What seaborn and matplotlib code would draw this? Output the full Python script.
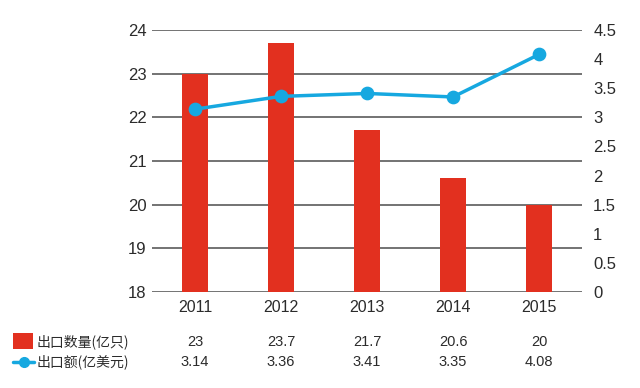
import matplotlib
matplotlib.use("Agg")
import matplotlib.pyplot as plt
import seaborn as sns
import pandas as pd
from matplotlib.patches import Rectangle
from matplotlib.lines import Line2D

years = ["2011", "2012", "2013", "2014", "2015"]
quantity = [23, 23.7, 21.7, 20.6, 20]
value = [3.14, 3.36, 3.41, 3.35, 4.08]
qty_labels = ["23", "23.7", "21.7", "20.6", "20"]
val_labels = ["3.14", "3.36", "3.41", "3.35", "4.08"]
left_ticks = [18, 19, 20, 21, 22, 23, 24]
right_ticks = [0, 0.5, 1, 1.5, 2, 2.5, 3, 3.5, 4, 4.5]
right_tick_labels = ["0", "0.5", "1", "1.5", "2", "2.5", "3", "3.5", "4", "4.5"]
series_names = ["出口数量(亿只)", "出口额(亿美元)"]

sns.set_theme(style="white")
plt.rcParams['font.family'] = ['Liberation Sans', 'Noto Sans CJK SC', 'DejaVu Sans']

RED = "#e2301f"
BLUE = "#16a8e0"
GRID = "#4d4d4d"
TXT = "#2b2b2b"

df = pd.DataFrame({"year": years, "quantity": quantity, "value": value})

fig = plt.figure(figsize=(6.4, 3.88), dpi=100)
ax = fig.add_axes([0.2375, 0.2474, 0.6719, 0.6753])

sns.barplot(data=df, x="year", y="quantity", color=RED, width=0.3,
            saturation=1, ax=ax, zorder=3, linewidth=0)
ax.set_ylim(18, 24)
ax.set_yticks(left_ticks)
ax.set_yticklabels([str(t) for t in left_ticks])
ax.yaxis.grid(True, color=GRID, linewidth=1.1, zorder=0)
ax.set_axisbelow(True)
for s in ax.spines.values():
    s.set_visible(False)
ax.tick_params(axis="y", length=0, pad=4, labelsize=12, labelcolor=TXT)
ax.tick_params(axis="x", length=0, pad=6, labelsize=11.5, labelcolor=TXT)
ax.set_xlabel("")
ax.set_ylabel("")
ax.set_xlim(-0.5, 4.5)

ax2 = ax.twinx()
sns.pointplot(data=df, x="year", y="value", color=BLUE, ax=ax2,
              markers="o", markersize=8, linewidth=2.5, zorder=5)
ax2.set_ylim(0, 4.5)
ax2.set_yticks(right_ticks)
ax2.set_yticklabels(right_tick_labels)
for s in ax2.spines.values():
    s.set_visible(False)
ax2.tick_params(axis="y", length=0, pad=8, labelsize=12, labelcolor=TXT)
ax2.set_ylabel("")
ax2.set_xlabel("")
ax2.grid(False)
ax2.set_xlim(-0.5, 4.5)

# table below
trans = matplotlib.transforms.blended_transform_factory(ax.transData, fig.transFigure)
y1 = 1 - 342 / 388
y2 = 1 - 362 / 388
for i in range(len(years)):
    ax.text(i, y1, qty_labels[i], transform=trans, ha="center", va="center",
            fontsize=10.5, color=TXT)
    ax.text(i, y2, val_labels[i], transform=trans, ha="center", va="center",
            fontsize=10.5, color=TXT)

fig.patches.append(Rectangle((13 / 640, 1 - 349 / 388), 20 / 640, 16 / 388,
                             transform=fig.transFigure, facecolor=RED,
                             edgecolor="none"))
fig.lines.append(Line2D([13 / 640, 34 / 640], [y2, y2], transform=fig.transFigure,
                        color=BLUE, linewidth=2.5, marker=None))
fig.lines.append(Line2D([23.5 / 640], [y2], transform=fig.transFigure,
                        color=BLUE, marker="o", markersize=7, linestyle="none"))
fig.text(37 / 640, y1, series_names[0], ha="left", va="center", fontsize=10,
         color=TXT, family=['Noto Sans CJK SC', 'DejaVu Sans'])
fig.text(37 / 640, y2, series_names[1], ha="left", va="center", fontsize=10,
         color=TXT, family=['Noto Sans CJK SC', 'DejaVu Sans'])

fig.savefig("out.png", dpi=100)
